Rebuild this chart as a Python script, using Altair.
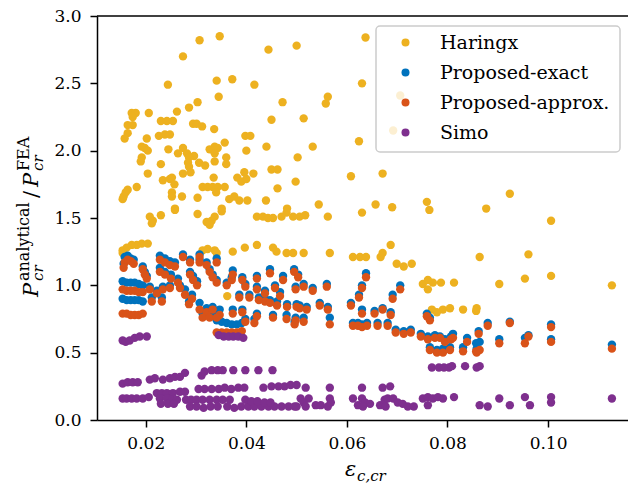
import altair as alt
import pandas as pd

FONT = "DejaVu Serif"

series_names = ["Haringx", "Proposed-exact", "Proposed-approx.", "Simo"]
series_colors = ["#EDB120", "#0072BD", "#D95319", "#7E2F8E"]

haringx = [
    (0.0307, 2.82), (0.0347, 2.85), (0.0274, 2.70), (0.0444, 2.75), (0.0500, 2.78), (0.0637, 2.84),
    (0.0630, 2.50), (0.0562, 2.40), (0.0558, 2.35), (0.0514, 2.24), (0.0624, 2.07), (0.0532, 2.03),
    (0.0502, 1.95), (0.0608, 1.81), (0.0671, 1.83), (0.0498, 1.77), (0.0544, 1.60), (0.0657, 1.60),
    (0.0690, 1.58), (0.0759, 1.62), (0.0877, 1.57), (0.0244, 2.49), (0.0341, 2.52), (0.0372, 2.53),
    (0.0416, 2.49), (0.0345, 2.40), (0.0472, 2.36), (0.0303, 2.36), (0.0286, 2.32), (0.0262, 2.29),
    (0.0206, 2.28), (0.0172, 2.28), (0.0180, 2.28), (0.0174, 2.25), (0.0450, 2.23), (0.0230, 2.22),
    (0.0242, 2.22), (0.0254, 2.22), (0.0294, 2.20), (0.0301, 2.20), (0.0312, 2.18), (0.0164, 2.19),
    (0.0174, 2.19), (0.0336, 2.16), (0.0164, 2.13), (0.0158, 2.09), (0.0202, 2.09), (0.0226, 2.11),
    (0.0238, 2.12), (0.0248, 2.12), (0.0398, 2.11), (0.0408, 2.11), (0.0357, 2.06), (0.0440, 2.03),
    (0.0192, 2.03), (0.0198, 2.02), (0.0204, 2.00), (0.0245, 2.01), (0.0274, 2.02), (0.0264, 1.98),
    (0.0282, 1.98), (0.0296, 1.96), (0.0327, 2.01), (0.0337, 2.03), (0.0343, 2.02), (0.0337, 1.98),
    (0.0400, 2.00), (0.0360, 1.95), (0.0192, 1.95), (0.0190, 1.92), (0.0286, 1.95), (0.0284, 1.91),
    (0.0286, 1.88), (0.0337, 1.92), (0.0360, 1.90), (0.0306, 1.91), (0.0318, 1.89), (0.0230, 1.90),
    (0.0204, 1.83), (0.0274, 1.83), (0.0289, 1.84), (0.0396, 1.84), (0.0414, 1.83), (0.0450, 1.86),
    (0.0462, 1.86), (0.0234, 1.78), (0.0248, 1.79), (0.0252, 1.80), (0.0257, 1.75), (0.0382, 1.80),
    (0.0390, 1.77), (0.0400, 1.79), (0.0335, 1.80), (0.0313, 1.73), (0.0323, 1.73), (0.0333, 1.73),
    (0.0343, 1.73), (0.0357, 1.73), (0.0340, 1.69), (0.0182, 1.73), (0.0164, 1.71), (0.0160, 1.69),
    (0.0156, 1.66), (0.0154, 1.64), (0.0252, 1.69), (0.0252, 1.66), (0.0272, 1.66), (0.0303, 1.65),
    (0.0462, 1.72), (0.0366, 1.64), (0.0376, 1.66), (0.0386, 1.63), (0.0402, 1.63), (0.0439, 1.63),
    (0.0481, 1.57), (0.0258, 1.57), (0.0351, 1.57), (0.0208, 1.51), (0.0214, 1.48), (0.0212, 1.46),
    (0.0230, 1.52), (0.0258, 1.56), (0.0303, 1.53), (0.0321, 1.47), (0.0331, 1.48), (0.0337, 1.51),
    (0.0327, 1.45), (0.0351, 1.55), (0.0421, 1.51), (0.0433, 1.51), (0.0443, 1.50), (0.0453, 1.50),
    (0.0470, 1.51), (0.0480, 1.54), (0.0493, 1.51), (0.0506, 1.51), (0.0517, 1.52), (0.0562, 1.51),
    (0.0630, 1.54), (0.0764, 1.56), (0.0154, 1.26), (0.0162, 1.28), (0.0172, 1.30), (0.0182, 1.30),
    (0.0192, 1.31), (0.0204, 1.31), (0.0154, 1.24), (0.0313, 1.26), (0.0323, 1.27), (0.0337, 1.26),
    (0.0341, 1.24), (0.0373, 1.25), (0.0397, 1.28), (0.0421, 1.30), (0.0453, 1.28), (0.0460, 1.25),
    (0.0480, 1.24), (0.0493, 1.24), (0.0514, 1.24), (0.0566, 1.24), (0.0612, 1.21), (0.0626, 1.21),
    (0.0638, 1.21), (0.0667, 1.21), (0.0671, 1.24), (0.0687, 1.30), (0.0699, 1.16), (0.0713, 1.14),
    (0.0729, 1.16), (0.0751, 1.01), (0.0761, 1.04), (0.0771, 1.02), (0.0761, 0.97), (0.0787, 1.02),
    (0.0813, 1.02), (0.0864, 1.21), (0.0769, 0.82), (0.0779, 0.80), (0.0791, 0.82), (0.0805, 0.83),
    (0.0831, 0.82), (0.0858, 0.83), (0.0924, 1.68), (0.1006, 1.48), (0.0961, 1.23), (0.0903, 1.01),
    (0.0954, 1.05), (0.1006, 1.07), (0.1127, 1.00), (0.0857, 0.81), (0.0706, 2.41), (0.0692, 2.15),
    (0.0362, 0.92),
]

# (x, exact, approx)
proposed = [
    (0.0158, 1.21, 1.17), (0.0164, 1.22, 1.19), (0.0170, 1.20, 1.18), (0.0176, 1.19, 1.16), (0.0156, 1.16, 1.13),
    (0.0194, 1.14, 1.12), (0.0198, 1.10, 1.08), (0.0202, 1.07, 1.05),
    (0.0154, 1.03, 0.97), (0.0162, 1.02, 0.96), (0.0170, 1.02, 0.96), (0.0178, 1.02, 0.96), (0.0186, 1.01, 0.95), (0.0194, 1.00, 0.95),
    (0.0154, 0.90, 0.79), (0.0162, 0.89, 0.79), (0.0170, 0.89, 0.78), (0.0178, 0.89, 0.78), (0.0186, 0.89, 0.78), (0.0194, 0.88, 0.79),
    (0.0228, 1.22, 1.19), (0.0238, 1.20, 1.17), (0.0248, 1.18, 1.15), (0.0258, 1.17, 1.14),
    (0.0274, 1.23, 1.21), (0.0288, 1.19, 1.17), (0.0307, 1.23, 1.21), (0.0307, 1.19, 1.17), (0.0321, 1.17, 1.15), (0.0341, 1.20, 1.17),
    (0.0228, 1.13, 1.10), (0.0238, 1.10, 1.08), (0.0250, 1.08, 1.05), (0.0264, 1.05, 1.02),
    (0.0208, 0.99, 0.97), (0.0222, 0.96, 0.94), (0.0234, 0.99, 0.97), (0.0248, 1.00, 0.98), (0.0268, 1.00, 0.98),
    (0.0212, 0.91, 0.88), (0.0232, 0.91, 0.88),
    (0.0288, 1.10, 1.08), (0.0294, 1.07, 1.04), (0.0302, 1.03, 1.00),
    (0.0278, 0.97, 0.93), (0.0292, 0.93, 0.90), (0.0286, 0.88, 0.86),
    (0.0307, 0.87, 0.82), (0.0321, 0.83, 0.80), (0.0333, 0.84, 0.82), (0.0347, 0.82, 0.78),
    (0.0313, 0.79, 0.76), (0.0327, 0.78, 0.76), (0.0341, 0.78, 0.76),
    (0.0351, 0.73, 0.65), (0.0361, 0.72, 0.65), (0.0371, 0.71, 0.65), (0.0381, 0.71, 0.65), (0.0391, 0.72, 0.66), (0.0341, 0.74, 0.65),
    (0.0327, 1.12, 1.10), (0.0333, 1.08, 1.06), (0.0341, 1.04, 1.02),
    (0.0361, 1.02, 1.00), (0.0371, 1.06, 1.04), (0.0373, 1.11, 1.08), (0.0392, 1.06, 1.04),
    (0.0398, 1.01, 0.99), (0.0421, 0.99, 0.97),
    (0.0421, 1.07, 1.05), (0.0447, 1.12, 1.09), (0.0473, 1.07, 1.04), (0.0495, 1.12, 1.10),
    (0.0386, 0.93, 0.91), (0.0406, 0.93, 0.91), (0.0425, 0.91, 0.89), (0.0437, 0.90, 0.88), (0.0447, 0.89, 0.87),
    (0.0461, 0.88, 0.85), (0.0481, 0.86, 0.84), (0.0500, 0.86, 0.84),
    (0.0373, 0.82, 0.79), (0.0392, 0.82, 0.80), (0.0421, 0.79, 0.77), (0.0453, 0.78, 0.76), (0.0480, 0.78, 0.75), (0.0498, 0.76, 0.74),
    (0.0398, 0.75, 0.73), (0.0416, 0.75, 0.72),
    (0.0437, 0.96, 0.94), (0.0467, 0.95, 0.92), (0.0457, 1.00, 0.98),
    (0.0503, 1.08, 1.06), (0.0498, 0.99, 0.97), (0.0514, 1.01, 0.99), (0.0532, 0.98, 0.96), (0.0560, 1.01, 0.99),
    (0.0638, 1.09, 1.06), (0.0630, 1.00, 0.98), (0.0706, 1.00, 0.97), (0.0624, 0.93, 0.91), (0.0691, 0.93, 0.90),
    (0.0608, 0.87, 0.85), (0.0546, 0.87, 0.85), (0.0562, 0.84, 0.82), (0.0506, 0.85, 0.83), (0.0520, 0.84, 0.82),
    (0.0630, 0.82, 0.79), (0.0655, 0.81, 0.79), (0.0671, 0.83, 0.82), (0.0687, 0.80, 0.78), (0.0759, 0.79, 0.77),
    (0.0566, 0.76, 0.71), (0.0612, 0.72, 0.70), (0.0622, 0.72, 0.70), (0.0630, 0.71, 0.69), (0.0640, 0.72, 0.70),
    (0.0661, 0.72, 0.70), (0.0681, 0.72, 0.70), (0.0697, 0.67, 0.65), (0.0713, 0.66, 0.64), (0.0727, 0.67, 0.65),
    (0.0514, 0.76, 0.73), (0.0496, 0.73, 0.71), (0.0765, 0.76, 0.74),
    (0.0747, 0.64, 0.62), (0.0761, 0.62, 0.60), (0.0775, 0.63, 0.61), (0.0785, 0.62, 0.61), (0.0795, 0.60, 0.58),
    (0.0807, 0.62, 0.60), (0.0811, 0.64, 0.61), (0.0839, 0.61, 0.58),
    (0.0765, 0.54, 0.52), (0.0779, 0.52, 0.50), (0.0791, 0.53, 0.50), (0.0805, 0.54, 0.52), (0.0831, 0.54, 0.51), (0.0858, 0.53, 0.50),
    (0.0862, 0.66, 0.64), (0.0880, 0.72, 0.70), (0.0857, 0.57, 0.51), (0.0864, 0.58, 0.52),
    (0.0903, 0.60, 0.57), (0.0924, 0.73, 0.72), (0.0954, 0.61, 0.57), (0.0961, 0.63, 0.62),
    (0.1006, 0.71, 0.69), (0.1006, 0.60, 0.58), (0.1127, 0.56, 0.53),
]

simo = [
    (0.0154, 0.59), (0.0160, 0.58), (0.0168, 0.59), (0.0178, 0.61), (0.0188, 0.62), (0.0202, 0.62),
    (0.0154, 0.27), (0.0164, 0.28), (0.0174, 0.28), (0.0184, 0.28),
    (0.0154, 0.16), (0.0162, 0.16), (0.0172, 0.16), (0.0182, 0.16), (0.0194, 0.16), (0.0206, 0.17),
    (0.0208, 0.30), (0.0218, 0.31), (0.0234, 0.30), (0.0248, 0.31), (0.0258, 0.32), (0.0268, 0.32), (0.0278, 0.35),
    (0.0311, 0.33), (0.0317, 0.36), (0.0331, 0.37), (0.0343, 0.37), (0.0353, 0.37),
    (0.0374, 0.37), (0.0398, 0.37), (0.0424, 0.37), (0.0452, 0.37),
    (0.0222, 0.20), (0.0232, 0.20), (0.0242, 0.20), (0.0254, 0.20), (0.0268, 0.21), (0.0278, 0.21),
    (0.0228, 0.16), (0.0242, 0.16), (0.0252, 0.15), (0.0262, 0.15),
    (0.0230, 0.12), (0.0244, 0.12), (0.0256, 0.12),
    (0.0305, 0.23), (0.0317, 0.23), (0.0331, 0.23), (0.0345, 0.23), (0.0357, 0.24), (0.0370, 0.23), (0.0384, 0.24), (0.0396, 0.24),
    (0.0280, 0.15), (0.0290, 0.15), (0.0301, 0.15), (0.0313, 0.15), (0.0327, 0.15), (0.0341, 0.15), (0.0353, 0.15), (0.0367, 0.15),
    (0.0288, 0.10), (0.0301, 0.10), (0.0315, 0.09), (0.0329, 0.10), (0.0343, 0.10), (0.0362, 0.10), (0.0376, 0.09), (0.0390, 0.10),
    (0.0404, 0.10), (0.0416, 0.10), (0.0430, 0.10), (0.0444, 0.10), (0.0456, 0.10), (0.0470, 0.10), (0.0484, 0.10), (0.0496, 0.10),
    (0.0398, 0.15), (0.0410, 0.14), (0.0422, 0.14), (0.0436, 0.13), (0.0448, 0.13),
    (0.0434, 0.24), (0.0450, 0.25), (0.0464, 0.25), (0.0476, 0.25), (0.0488, 0.26), (0.0500, 0.26),
    (0.0518, 0.24), (0.0566, 0.24), (0.0630, 0.24), (0.0671, 0.24), (0.0686, 0.25),
    (0.0508, 0.16), (0.0524, 0.16), (0.0514, 0.13), (0.0500, 0.10), (0.0518, 0.10), (0.0538, 0.11), (0.0548, 0.11),
    (0.0566, 0.16), (0.0568, 0.13), (0.0562, 0.10),
    (0.0612, 0.16), (0.0622, 0.11), (0.0630, 0.16), (0.0636, 0.13), (0.0646, 0.12), (0.0632, 0.10),
    (0.0666, 0.11), (0.0675, 0.15), (0.0681, 0.16), (0.0677, 0.10),
    (0.0692, 0.16), (0.0701, 0.13), (0.0711, 0.12), (0.0721, 0.10), (0.0733, 0.10),
    (0.0751, 0.16), (0.0761, 0.17), (0.0771, 0.16), (0.0781, 0.17), (0.0791, 0.16), (0.0761, 0.11), (0.0813, 0.17),
    (0.0769, 0.39), (0.0783, 0.39), (0.0793, 0.39), (0.0803, 0.39), (0.0809, 0.40), (0.0835, 0.40), (0.0864, 0.40), (0.0858, 0.39),
    (0.0864, 0.11), (0.0880, 0.10), (0.0903, 0.16), (0.0924, 0.11), (0.0954, 0.17), (0.0964, 0.11),
    (0.1006, 0.17), (0.1006, 0.13), (0.1127, 0.16),
    (0.0345, 0.63), (0.0355, 0.62), (0.0365, 0.62), (0.0374, 0.62), (0.0384, 0.62), (0.0394, 0.61),
]

x_ticks = [0.02, 0.04, 0.06, 0.08, 0.10]
y_ticks = [0.0, 0.5, 1.0, 1.5, 2.0, 2.5, 3.0]

rows = []
for x, y in haringx:
    rows.append({"x": x, "y": y, "s": "Haringx"})
for x, e, a in proposed:
    rows.append({"x": x, "y": e, "s": "Proposed-exact"})
for x, e, a in proposed:
    rows.append({"x": x, "y": a, "s": "Proposed-approx."})
for x, y in simo:
    rows.append({"x": x, "y": y, "s": "Simo"})
df = pd.DataFrame(rows)

W, H = 531, 404

axis_style = dict(labelFont=FONT, labelFontSize=17, labelColor="black", domainColor="black",
                  domainWidth=1.5, tickColor="black", tickWidth=1.5, tickSize=7, grid=False, title=None)

points = alt.Chart(df).mark_point(filled=True, shape="circle", size=70, opacity=1, strokeWidth=0).encode(
    x=alt.X("x:Q", scale=alt.Scale(domain=[0.0103, 0.1159], nice=False, zero=False),
            axis=alt.Axis(values=x_ticks, format=".2f", labelPadding=8, **axis_style)),
    y=alt.Y("y:Q", scale=alt.Scale(domain=[0, 3.0], nice=False),
            axis=alt.Axis(values=y_ticks, format=".1f", labelPadding=9, **axis_style)),
    color=alt.Color("s:N", scale=alt.Scale(domain=series_names, range=series_colors),
                    legend=alt.Legend(title=None, orient="none", legendX=279, legendY=12,
                                      labelFont=FONT, labelFontSize=19, labelColor="black",
                                      labelLimit=400, symbolSize=64, symbolType="circle",
                                      symbolStrokeWidth=0, padding=5, rowPadding=10,
                                      labelOffset=25, symbolOffset=15)),
)

top_rule = alt.Chart(pd.DataFrame({"a": [0]})).mark_rule(color="black", strokeWidth=1.5).encode(
    x=alt.value(0), x2=alt.value(W), y=alt.value(0)
)

legend_box = alt.Chart(pd.DataFrame({"a": [0]})).mark_rect(
    fill="white", fillOpacity=0.8, stroke="#cccccc", strokeWidth=1.5, cornerRadius=4
).encode(x=alt.value(279), x2=alt.value(523), y=alt.value(10), y2=alt.value(136))


def txt(t, x, y, size, italic=False, angle=0):
    return alt.Chart(pd.DataFrame({"t": [t]})).mark_text(
        align="left", baseline="alphabetic", angle=angle, fontSize=size, font=FONT,
        fontStyle="italic" if italic else "normal", color="black"
    ).encode(x=alt.value(x), y=alt.value(y), text="t:N")


# y-axis title pieces (rotated), coordinates relative to plot origin (97,16)
ylab = [
    txt("P", -59, 281, 21, True, 270),
    txt("cr", -54, 265, 15, True, 270),
    txt("analytical", -68, 265, 16, False, 270),
    txt("/", -59, 182, 21, False, 270),
    txt("P", -59, 171, 21, True, 270),
    txt("cr", -54, 155, 15, True, 270),
    txt("FEA", -68, 155, 16, False, 270),
]
xlab = [
    txt("ε", 248, 460, 21, True),
    txt("c,cr", 260, 465, 15, True),
]

chart = alt.layer(points, top_rule, legend_box, *ylab, *xlab).properties(
    width=W, height=H,
    padding={"left": 97, "top": 16, "right": 0, "bottom": 69},
    autosize=alt.AutoSizeParams(type="none"),
).configure(font=FONT).configure_view(stroke=None).configure_legend(
    strokeColor="transparent", fillColor="transparent",
)

chart.save("out.html", embed_options={"renderer": "svg", "actions": False})
